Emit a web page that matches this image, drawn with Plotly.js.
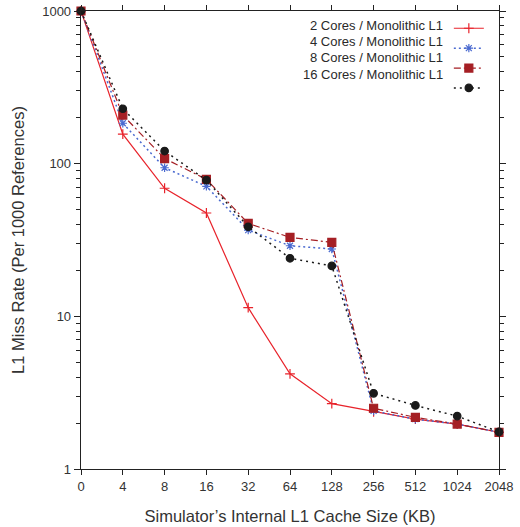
<!DOCTYPE html>
<html>
<head>
<meta charset="utf-8">
<script src="https://cdn.plot.ly/plotly-3.0.1.min.js"></script>
<style>html,body{margin:0;padding:0;background:#fff;}#chart{width:520px;height:527px;}</style>
</head>
<body>
<div id="chart"></div>
<script>
const categories = ["0","4","8","16","32","64","128","256","512","1024","2048"];
const seriesNames = ["2 Cores / Monolithic L1","4 Cores / Monolithic L1","8 Cores / Monolithic L1","16 Cores / Monolithic L1"];
const cores2  = [1000, 156, 69, 47.5, 11.4, 4.2, 2.68, 2.37, 2.12, 1.97, 1.74];
const cores4  = [1000, 184, 94, 71, 36.7, 29, 27.6, 2.40, 2.12, 1.97, 1.74];
const cores8  = [1000, 208, 108, 79, 40.6, 32.9, 30.5, 2.50, 2.18, 1.97, 1.74];
const cores16 = [1000, 229, 121, 78, 38.6, 24, 21.4, 3.13, 2.61, 2.22, 1.75];
const yTickVals = [1, 10, 100, 1000];
const yTickText = ["1","10","100","1000"];

const styles = [
  {color:"#e8232b", dash:"solid", symbol:"cross-thin-open", size:7, lw:1.2},
  {color:"#4a6ad0", dash:"2px,3px", symbol:"asterisk-open", size:7, lw:1.5},
  {color:"#a51f24", dash:"7px,3px,2px,3px", symbol:"square", size:8, lw:1.2},
  {color:"#1a1a1a", dash:"2px,4px", symbol:"circle", size:7.5, lw:1.5}
];
const data = [cores2, cores4, cores8, cores16].map((ys, i) => ({
  type: "scatter", mode: "lines+markers",
  x: categories, y: ys, name: " ",
  cliponaxis: false,
  line: {color: styles[i].color, dash: styles[i].dash, width: styles[i].lw},
  marker: {color: styles[i].color, symbol: styles[i].symbol, size: styles[i].size,
           line: {color: styles[i].color, width: 1.2}}
}));

const annotations = seriesNames.map((t, i) => ({
  xref: "paper", yref: "paper", x: 0.871, y: 0.9694 - i*0.036,
  xanchor: "right", yanchor: "middle", showarrow: false, text: t,
  font: {family: "Liberation Sans, Arial, sans-serif", size: 13, color: "#2a2a2a"}
}));

const layout = {
  width: 520, height: 527,
  margin: {l: 81, r: 21, t: 11, b: 58},
  paper_bgcolor: "#fff", plot_bgcolor: "#fff",
  font: {family: "Liberation Sans, Arial, sans-serif", size: 13, color: "#333"},
  showlegend: true,
  legend: {x: 0.88, xanchor: "left", y: 0.995, yanchor: "top",
           bgcolor: "rgba(0,0,0,0)", itemwidth: 30, tracegroupgap: 0,
           font: {size: 13}},
  xaxis: {type: "category", range: [0, 10], showgrid: false, zeroline: false,
          showline: true, linecolor: "#222", linewidth: 1.3, mirror: "ticks",
          ticks: "outside", ticklen: 5, tickcolor: "#222", tickwidth: 1,
          title: {text: "Simulator\u2019s Internal L1 Cache Size (KB)", font: {size: 16.5}, standoff: 17},
          tickfont: {size: 13}},
  yaxis: {type: "log", range: [0, 3], showgrid: false, zeroline: false,
          showline: true, linecolor: "#222", linewidth: 1.3, mirror: "ticks",
          ticks: "outside", ticklen: 6, tickcolor: "#222", tickwidth: 1,
          tickvals: yTickVals, ticktext: yTickText,
          minor: {ticks: "outside", ticklen: 4, tickcolor: "#222", dtick: "D1", showgrid: false},
          title: {text: "L1 Miss Rate (Per 1000 References)", font: {size: 16.5}, standoff: 13},
          tickfont: {size: 13}},
  annotations: annotations
};
Plotly.newPlot("chart", data, layout, {displayModeBar: false, staticPlot: true});
</script>
</body>
</html>
